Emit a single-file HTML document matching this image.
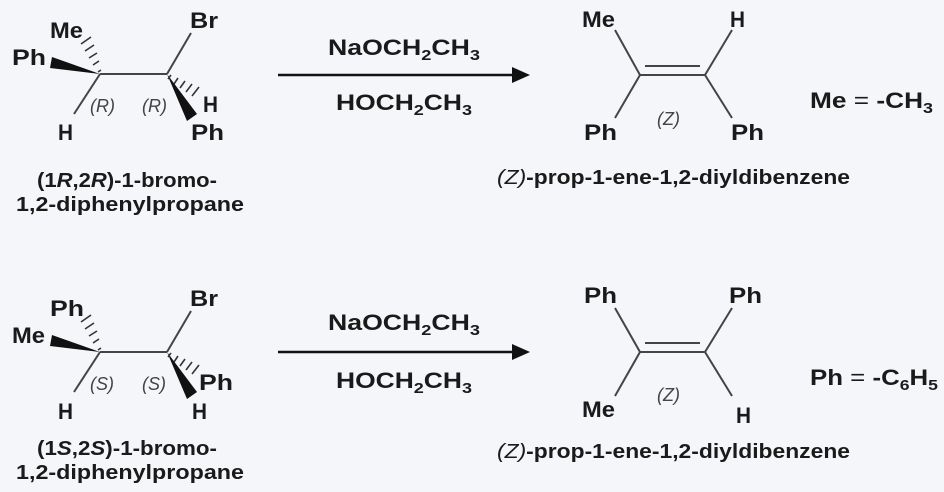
<!DOCTYPE html>
<html><head><meta charset="utf-8"><style>
html,body{margin:0;padding:0;background:#f5f6fa;}
svg{display:block;}
text{font-family:"Liberation Sans",Arial,sans-serif;fill:#1a1a1a;}
.l{font-size:22px;font-weight:bold;}
.c{font-size:20px;font-weight:bold;}
.r{font-size:22px;font-weight:bold;}
.s{font-size:18px;font-style:italic;fill:#444;}
</style></head><body>
<svg width="944" height="492" viewBox="0 0 944 492">
<g stroke="#444" stroke-width="2" fill="none">
<line x1="100" y1="74" x2="167" y2="74"/>
<line x1="100" y1="74" x2="74" y2="114"/>
<line x1="167" y1="74" x2="191" y2="33"/>
<line x1="100" y1="352" x2="167" y2="352"/>
<line x1="100" y1="352" x2="74" y2="392"/>
<line x1="167" y1="352" x2="191" y2="311"/>
<line x1="615" y1="30" x2="640" y2="75"/>
<line x1="640" y1="75" x2="615" y2="118"/>
<line x1="640" y1="75" x2="705" y2="75"/>
<line x1="645" y1="66" x2="700" y2="66"/>
<line x1="705" y1="75" x2="732" y2="30"/>
<line x1="705" y1="75" x2="732" y2="118"/>
<line x1="615" y1="308" x2="640" y2="352"/>
<line x1="640" y1="352" x2="615" y2="396"/>
<line x1="640" y1="352" x2="705" y2="352"/>
<line x1="645" y1="343" x2="700" y2="343"/>
<line x1="705" y1="352" x2="732" y2="308"/>
<line x1="705" y1="352" x2="732" y2="396"/>
</g>
<polygon points="100,74 52,57 50,68" fill="#111"/>
<polygon points="167,74 187,121 197,114" fill="#111"/>
<polygon points="100,352 52,335 50,346" fill="#111"/>
<polygon points="167,352 187,399 197,392" fill="#111"/>
<g stroke="#333" stroke-width="1.6">
<line x1="98" y1="72" x2="101" y2="70"/><line x1="93" y1="65" x2="99" y2="61"/><line x1="89" y1="58" x2="97" y2="53"/><line x1="85" y1="51" x2="94" y2="45"/><line x1="81" y1="44" x2="91" y2="37"/>
<line x1="171" y1="75" x2="168" y2="79"/><line x1="178" y1="78" x2="174" y2="84"/><line x1="185" y1="81" x2="180" y2="88"/><line x1="192" y1="84" x2="186" y2="92"/><line x1="199" y1="87" x2="192" y2="96"/>
<line x1="98" y1="350" x2="101" y2="348"/><line x1="93" y1="343" x2="99" y2="339"/><line x1="89" y1="336" x2="97" y2="331"/><line x1="85" y1="329" x2="94" y2="323"/><line x1="81" y1="322" x2="91" y2="315"/>
<line x1="171" y1="353" x2="168" y2="357"/><line x1="178" y1="356" x2="174" y2="362"/><line x1="185" y1="359" x2="180" y2="366"/><line x1="192" y1="362" x2="186" y2="370"/><line x1="199" y1="365" x2="192" y2="374"/>
</g>
<line x1="278" y1="75" x2="515" y2="75" stroke="#111" stroke-width="2.5"/>
<polygon points="530,75 512,67 512,83" fill="#111"/>
<line x1="278" y1="352" x2="515" y2="352" stroke="#111" stroke-width="2.5"/>
<polygon points="530,352 512,344 512,360" fill="#111"/>

<text class="l" x="50" y="38" textLength="33" lengthAdjust="spacingAndGlyphs">Me</text>
<text class="l" x="12" y="65" textLength="34" lengthAdjust="spacingAndGlyphs">Ph</text>
<text class="l" x="58" y="140" textLength="15" lengthAdjust="spacingAndGlyphs">H</text>
<text class="l" x="190" y="28" textLength="28" lengthAdjust="spacingAndGlyphs">Br</text>
<text class="l" x="203" y="112" textLength="15" lengthAdjust="spacingAndGlyphs">H</text>
<text class="l" x="191" y="140" textLength="33" lengthAdjust="spacingAndGlyphs">Ph</text>
<text class="s" x="90" y="112">(R)</text>
<text class="s" x="142" y="112">(R)</text>
<text class="c" x="127" y="187" text-anchor="middle" textLength="180" lengthAdjust="spacingAndGlyphs">(1<tspan font-style="italic">R</tspan>,2<tspan font-style="italic">R</tspan>)-1-bromo-</text>
<text class="c" x="130" y="211" text-anchor="middle" textLength="228" lengthAdjust="spacingAndGlyphs">1,2-diphenylpropane</text>

<text class="l" x="50" y="316" textLength="34" lengthAdjust="spacingAndGlyphs">Ph</text>
<text class="l" x="12" y="343" textLength="33" lengthAdjust="spacingAndGlyphs">Me</text>
<text class="l" x="58" y="419" textLength="15" lengthAdjust="spacingAndGlyphs">H</text>
<text class="l" x="190" y="306" textLength="28" lengthAdjust="spacingAndGlyphs">Br</text>
<text class="l" x="199" y="390" textLength="34" lengthAdjust="spacingAndGlyphs">Ph</text>
<text class="l" x="192" y="419" textLength="15" lengthAdjust="spacingAndGlyphs">H</text>
<text class="s" x="90" y="390">(S)</text>
<text class="s" x="142" y="390">(S)</text>
<text class="c" x="127" y="455" text-anchor="middle" textLength="180" lengthAdjust="spacingAndGlyphs">(1<tspan font-style="italic">S</tspan>,2<tspan font-style="italic">S</tspan>)-1-bromo-</text>
<text class="c" x="130" y="479" text-anchor="middle" textLength="228" lengthAdjust="spacingAndGlyphs">1,2-diphenylpropane</text>

<text class="r" x="328" y="55" textLength="152" lengthAdjust="spacingAndGlyphs">NaOCH<tspan font-size="15" dy="5">2</tspan><tspan dy="-5">CH</tspan><tspan font-size="15" dy="5">3</tspan></text>
<text class="r" x="336" y="110" textLength="136" lengthAdjust="spacingAndGlyphs">HOCH<tspan font-size="15" dy="5">2</tspan><tspan dy="-5">CH</tspan><tspan font-size="15" dy="5">3</tspan></text>
<text class="r" x="328" y="330" textLength="152" lengthAdjust="spacingAndGlyphs">NaOCH<tspan font-size="15" dy="5">2</tspan><tspan dy="-5">CH</tspan><tspan font-size="15" dy="5">3</tspan></text>
<text class="r" x="336" y="388" textLength="136" lengthAdjust="spacingAndGlyphs">HOCH<tspan font-size="15" dy="5">2</tspan><tspan dy="-5">CH</tspan><tspan font-size="15" dy="5">3</tspan></text>

<text class="l" x="582" y="27" textLength="33" lengthAdjust="spacingAndGlyphs">Me</text>
<text class="l" x="730" y="27" textLength="15" lengthAdjust="spacingAndGlyphs">H</text>
<text class="l" x="584" y="140" textLength="33" lengthAdjust="spacingAndGlyphs">Ph</text>
<text class="l" x="731" y="140" textLength="33" lengthAdjust="spacingAndGlyphs">Ph</text>
<text class="s" x="657" y="125">(Z)</text>
<text class="l" x="810" y="108" textLength="123" lengthAdjust="spacingAndGlyphs">Me <tspan font-weight="normal">=</tspan> -CH<tspan font-size="15" dy="5">3</tspan></text>
<text class="c" x="497" y="184" textLength="353" lengthAdjust="spacingAndGlyphs"><tspan font-style="italic" font-weight="normal">(Z)</tspan>-prop-1-ene-1,2-diyldibenzene</text>

<text class="l" x="584" y="303" textLength="33" lengthAdjust="spacingAndGlyphs">Ph</text>
<text class="l" x="729" y="303" textLength="33" lengthAdjust="spacingAndGlyphs">Ph</text>
<text class="l" x="582" y="417" textLength="33" lengthAdjust="spacingAndGlyphs">Me</text>
<text class="l" x="736" y="423" textLength="15" lengthAdjust="spacingAndGlyphs">H</text>
<text class="s" x="657" y="401">(Z)</text>
<text class="l" x="810" y="385" textLength="128" lengthAdjust="spacingAndGlyphs">Ph <tspan font-weight="normal">=</tspan> -C<tspan font-size="15" dy="5">6</tspan><tspan dy="-5">H</tspan><tspan font-size="15" dy="5">5</tspan></text>
<text class="c" x="497" y="458" textLength="353" lengthAdjust="spacingAndGlyphs"><tspan font-style="italic" font-weight="normal">(Z)</tspan>-prop-1-ene-1,2-diyldibenzene</text>
</svg>
</body></html>
